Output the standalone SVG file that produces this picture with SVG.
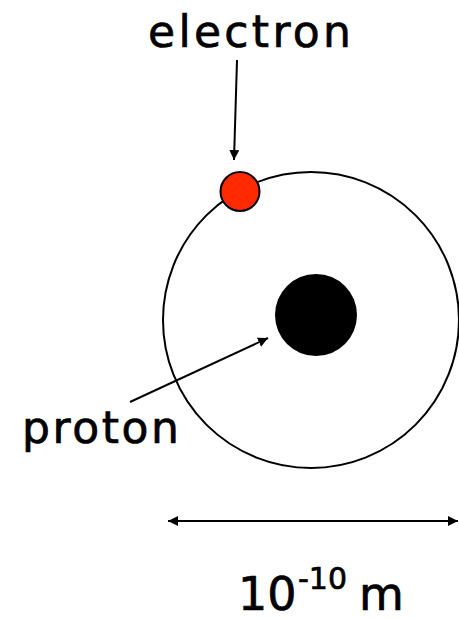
<svg xmlns="http://www.w3.org/2000/svg" width="459" height="620" viewBox="0 0 459 620">
<style>
.lbl{font-family:"DejaVu Sans","Liberation Sans",sans-serif;fill:#000;stroke:#000;stroke-width:0.7}
.ln{stroke:#000;stroke-width:2;fill:none}
</style>
<defs>
<marker id="ah" viewBox="0 0 10 10" refX="10" refY="5" markerWidth="10" markerHeight="10" markerUnits="userSpaceOnUse" orient="auto-start-reverse">
<path d="M0,0 L10,5 L0,10 Z" fill="#000"/>
</marker>
</defs>
<rect width="459" height="620" fill="#fff"/>
<g id="orbit"><circle cx="311" cy="320" r="148" class="ln"/></g>
<g id="proton-node"><circle cx="316" cy="315" r="41" fill="#000"/></g>
<g id="electron-node"><circle cx="240" cy="191.5" r="19.5" fill="#ff2a00" stroke="#000" stroke-width="2"/></g>
<g id="connectors">
<line x1="237" y1="60" x2="234" y2="160" class="ln" marker-end="url(#ah)"/>
<line x1="130" y1="402" x2="268" y2="338" class="ln" marker-end="url(#ah)"/>
<line x1="168" y1="521" x2="458" y2="521" class="ln" marker-start="url(#ah)" marker-end="url(#ah)"/>
</g>
<g id="electron-label"><text class="lbl" x="148" y="47" font-size="44" textLength="203" lengthAdjust="spacing">electron</text></g>
<g id="proton-label"><text class="lbl" x="22" y="443" font-size="44" textLength="157" lengthAdjust="spacing">proton</text></g>
<g id="scale-label">
<text class="lbl" x="238" y="610" font-size="46">10</text>
<text class="lbl" x="298" y="589" font-size="30">-10</text>
<text class="lbl" x="359" y="610" font-size="46">m</text>
</g>
</svg>
